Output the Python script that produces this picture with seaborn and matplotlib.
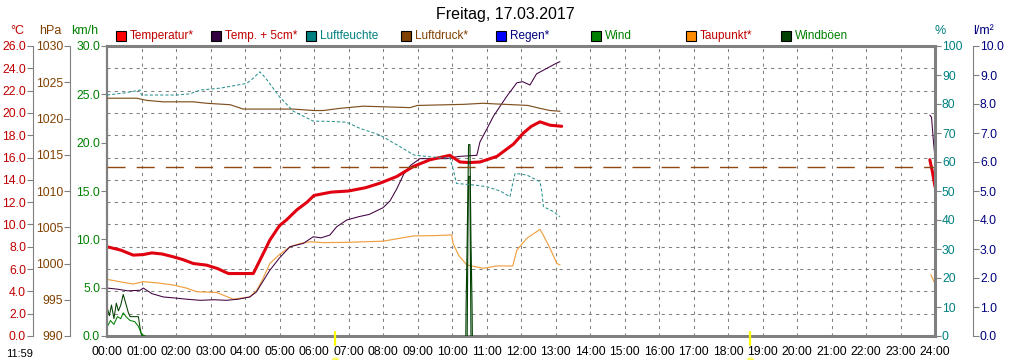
import numpy as np
import pandas as pd
import matplotlib
matplotlib.use("Agg")
import matplotlib.pyplot as plt
from matplotlib.patches import Rectangle
import seaborn as sns

# --- data (hours since midnight) ---
TITLE = "Freitag, 17.03.2017"
HOURS = list(range(25))
HOUR_LABELS = [f"{h:02d}:00" for h in HOURS]

temp_t = [0, 0.4, 0.76, 1.05, 1.3, 1.6, 1.92, 2.2, 2.5, 2.89, 3.2, 3.52, 3.9, 4.24, 4.53, 4.72,
          5.0, 5.2, 5.5, 5.8, 6.0, 6.5, 7.0, 7.5, 7.91, 8.4, 8.88, 9.36, 9.94, 10.23, 10.5, 10.81,
          11.3, 11.78, 12.07, 12.3, 12.55, 12.84, 13.18]
temp = [8.0, 7.7, 7.25, 7.3, 7.45, 7.35, 7.1, 6.85, 6.5, 6.35, 6.05, 5.6, 5.6, 5.6, 7.4, 8.6,
        9.9, 10.4, 11.3, 12.0, 12.6, 12.9, 13.0, 13.3, 13.7, 14.3, 15.2, 15.8, 16.2, 15.6, 15.55, 15.6,
        16.1, 17.2, 18.2, 18.8, 19.2, 18.9, 18.8]
temp_end_t = [23.85, 23.92, 24.0]
temp_end = [15.8, 14.8, 13.4]

t5_t = [0, 0.3, 0.6, 0.96, 1.05, 1.3, 1.63, 2.0, 2.3, 2.7, 3.1, 3.47, 3.8, 4.14, 4.33, 4.5, 4.72,
        5.0, 5.3, 5.69, 5.98, 6.2, 6.46, 6.66, 6.95, 7.3, 7.6, 8.0, 8.2, 8.4, 8.6, 8.8, 9.07, 9.5,
        9.85, 10.2, 10.72, 10.81, 11.0, 11.2, 11.59, 11.88, 12.05, 12.26, 12.45, 12.75, 12.99, 13.13]
t5 = [4.3, 4.2, 4.05, 4.1, 4.3, 3.8, 3.5, 3.4, 3.3, 3.2, 3.25, 3.2, 3.3, 3.5, 3.95, 4.8, 5.9,
      7.0, 8.0, 8.3, 8.9, 8.8, 9.05, 9.8, 10.4, 10.7, 10.9, 11.5, 12.1, 13.2, 14.5, 15.3, 15.9, 15.9,
      15.9, 16.1, 16.2, 17.4, 18.5, 19.7, 21.5, 22.7, 22.8, 22.5, 23.5, 24.0, 24.4, 24.6]
t5_end_t = [23.85, 23.9, 23.95, 24.0]
t5_end = [19.8, 19.6, 17.6, 16.0]

dp_t = [0, 0.4, 0.76, 1.05, 1.5, 1.92, 2.3, 2.6, 3.18, 3.66, 3.9, 4.14, 4.34, 4.5, 4.72, 5.0,
        5.3, 5.6, 5.88, 6.27, 7.0, 8.0, 8.88, 9.5, 9.99, 10.03, 10.2, 10.43, 10.7, 10.91, 11.3,
        11.76, 11.88, 12.17, 12.55, 12.62, 12.85, 13.04, 13.13]
dp = [5.08, 4.85, 4.66, 4.87, 4.75, 4.57, 4.3, 3.97, 3.9, 3.3, 3.4, 3.5, 4.1, 5.0, 6.5, 7.3,
      8.0, 8.3, 8.45, 8.37, 8.4, 8.5, 8.97, 9.0, 9.06, 8.3, 7.2, 6.37, 6.2, 6.07, 6.28,
      6.28, 7.7, 8.76, 9.56, 9.2, 7.8, 6.5, 6.37]
dp_end_t = [23.88, 24.0]
dp_end = [5.5, 4.7]

hum_t = [0, 0.5, 0.96, 1.0, 1.5, 2.02, 2.4, 2.7, 3.3, 4.05, 4.25, 4.43, 4.6, 5.0, 5.4, 5.98,
         6.5, 6.95, 7.33, 7.91, 8.49, 8.9, 9.36, 9.94, 10.04, 10.13, 10.62, 11.0, 11.4, 11.68,
         11.75, 11.83, 12.17, 12.55, 12.6, 12.65, 12.94, 13.13]
hum = [83.1, 83.8, 84.8, 83.1, 83.1, 83.1, 83.5, 84.8, 85.5, 87.1, 89.0, 91.1, 88.9, 82.5, 77.5,
       74.1, 74.0, 73.7, 71.6, 69.3, 65.3, 62.4, 61.8, 61.3, 57.2, 52.6, 52.1, 51.5, 50.0, 48.0,
       52.0, 56.1, 55.5, 53.2, 50.0, 44.6, 42.9, 41.1]

pres_t = [0, 0.86, 1.15, 1.63, 2.5, 2.89, 3.57, 3.95, 4.53, 5.0, 5.4, 6.0, 6.27, 6.75, 7.43,
          8.78, 9.0, 10.33, 10.9, 11.3, 11.78, 12.2, 12.55, 12.84, 13.13]
pres = [1022.8, 1022.8, 1022.5, 1022.3, 1022.3, 1022.1, 1021.9, 1021.3, 1021.3, 1021.3, 1021.3,
        1021.1, 1021.1, 1021.4, 1021.7, 1021.5, 1021.8, 1021.95, 1022.1, 1022.0, 1021.9, 1021.8,
        1021.4, 1021.1, 1021.0]
PRES_REF = 1013.25

gust_t = [0, 0.07, 0.13, 0.2, 0.27, 0.33, 0.4, 0.47, 0.55, 0.62, 0.67, 0.8, 0.91, 0.96, 1.0, 1.1]
gust = [3.0, 2.1, 3.2, 1.8, 3.4, 2.6, 3.2, 4.3, 3.3, 2.4, 2.0, 2.0, 2.0, 0.8, 0.1, 0.0]
wind_t = [0, 0.1, 0.2, 0.3, 0.4, 0.47, 0.55, 0.67, 0.8, 0.91, 1.0, 1.1]
wind = [0.9, 1.6, 1.2, 2.0, 1.8, 2.4, 2.0, 1.6, 1.5, 1.0, 0.2, 0.0]
gust2_t = [10.40, 10.41, 10.44, 10.48, 10.52, 10.55, 10.58, 10.59]
gust2 = [0, 3.4, 9.8, 19.8, 19.8, 9.8, 3.4, 0]
wind2_t = [10.44, 10.46, 10.48, 10.52, 10.53, 10.55]
wind2 = [0, 9.8, 16.5, 16.5, 9.8, 0]

SUN_TIMES = [6.6, 18.63]
DAYLEN = "11:59"

LEGEND_LABELS = ["Temperatur*", "Temp. + 5cm*", "Luftfeuchte", "Luftdruck*", "Regen*", "Wind",
                 "Taupunkt*", "Windböen"]
LEGEND_BOX = ["#ff0000", "#330040", "#008080", "#804000", "#0000ff", "#008000", "#ff8c00", "#004000"]
LEGEND_TXT = ["#c00000", "#c00000", "#008080", "#804000", "#000080", "#008000", "#c00000", "#008000"]

# --- layout in pixels ---
W, H = 1011, 360
L, R, T, B = 107, 935, 46, 336
GRAY = "#808080"

sns.set_style("white")
plt.rcParams["font.family"] = ["Liberation Sans", "DejaVu Sans"]
plt.rcParams["font.size"] = 7.5

fig = plt.figure(figsize=(W / 100, H / 100), dpi=100)
host = fig.add_axes([L / W, 1 - B / H, (R - L) / W, (B - T) / H])
ax_kmh = host.twinx()
ax_hpa = host.twinx()
ax_pct = host.twinx()
ax_rain = host.twinx()


def px_to_axes_x(px):
    return (px - L) / (R - L)


def setup(ax, lim, ticks, fmt, color, side, pos, lw=0.8):
    ax.set_ylim(*lim)
    for s in ax.spines.values():
        s.set_visible(False)
    sp = ax.spines[side]
    sp.set_visible(True)
    sp.set_position(("axes", pos))
    sp.set_color(GRAY)
    sp.set_linewidth(lw)
    ax.yaxis.set_ticks_position(side)
    ax.yaxis.set_label_position(side)
    ax.set_yticks(ticks)
    ax.set_yticklabels([fmt.format(v) for v in ticks])
    ax.tick_params(axis="y", colors=GRAY, labelcolor=color, length=4, width=0.8,
                   direction="out", labelsize=8.7, pad=1)
    ax.set_ylabel("")


setup(host, (0, 26), np.arange(0, 27, 2), "{:.1f}", "#c00000", "left", px_to_axes_x(33))
setup(ax_hpa, (990, 1030), np.arange(990, 1031, 5), "{:d}", "#804000", "left", px_to_axes_x(70))
setup(ax_kmh, (0, 30), np.arange(0, 31, 5), "{:.1f}", "#008000", "left", 0, lw=1.6)
setup(ax_pct, (0, 100), np.arange(0, 101, 10), "{:d}", "#008080", "right", 1, lw=2.2)
setup(ax_rain, (0, 10), np.arange(0, 11, 1), "{:.1f}", "#000080", "right", px_to_axes_x(973))

# frame of the plot area
for side in ["top", "bottom"]:
    host.spines[side].set_visible(True)
    host.spines[side].set_color(GRAY)
    host.spines[side].set_linewidth(2.2)

host.set_xlim(0, 24)
host.set_xticks(HOURS)
host.set_xticklabels(HOUR_LABELS)
host.tick_params(axis="x", length=0, pad=7, labelsize=8.7, labelcolor="black")
host.set_xlabel("")

# dashed grid
for y in np.arange(2, 26, 2):
    host.axhline(y, color=GRAY, lw=0.75, dashes=(3, 4), zorder=0)
for x in range(1, 24):
    host.axvline(x, color=GRAY, lw=0.75, dashes=(3, 4), zorder=0)

# series
sns.lineplot(x=hum_t, y=hum, ax=ax_pct, color="#2a9090", lw=0.75, dashes=False,
             linestyle=(0, (3, 2)))
sns.lineplot(x=pres_t, y=pres, ax=ax_hpa, color="#805020", lw=0.85)
ax_hpa.axhline(PRES_REF, color="#904810", lw=1.0, dashes=(13, 8))
sns.lineplot(x=gust_t, y=gust, ax=ax_kmh, color="#004000", lw=0.75, sort=False)
sns.lineplot(x=wind_t, y=wind, ax=ax_kmh, color="#008000", lw=0.75, sort=False)
sns.lineplot(x=gust2_t, y=gust2, ax=ax_kmh, color="#004000", lw=0.8, sort=False)
sns.lineplot(x=wind2_t, y=wind2, ax=ax_kmh, color="#004000", lw=0.8, sort=False)
sns.lineplot(x=dp_t, y=dp, ax=host, color="#f0a040", lw=0.85, sort=False)
sns.lineplot(x=dp_end_t, y=dp_end, ax=host, color="#f0a040", lw=0.85, sort=False)
sns.lineplot(x=t5_t, y=t5, ax=host, color="#400040", lw=0.75, sort=False)
sns.lineplot(x=t5_end_t, y=t5_end, ax=host, color="#400040", lw=0.75, sort=False)
sns.lineplot(x=temp_t, y=temp, ax=host, color="#e00010", lw=2.2, sort=False)
sns.lineplot(x=temp_end_t, y=temp_end, ax=host, color="#e00010", lw=2.2, sort=False)
for a in [host, ax_kmh, ax_hpa, ax_pct, ax_rain]:
    a.set_ylabel("")
    a.set_xlabel("")
    if a.get_legend() is not None:
        a.get_legend().remove()

# sunrise / sunset markers
for st in SUN_TIMES:
    host.plot([st, st], [-0.03, 0.014], transform=host.get_xaxis_transform(),
              color="#ffff00", lw=1.6, clip_on=False, zorder=5)
    host.plot([st], [-0.085], transform=host.get_xaxis_transform(), marker="o",
              ms=5, color="#ffff60", clip_on=False)

# axis unit labels
for txt, xp, col in [("°C", 17, "#c00000"), ("hPa", 50, "#804000"), ("km/h", 85, "#008000"),
                     ("%", 940, "#008080"), ("l/m²", 984, "#000080")]:
    fig.text(xp / W, 1 - 31 / H, txt, color=col, ha="center", va="center", fontsize=9)

# legend row
for i, (lab, bc, tc) in enumerate(zip(LEGEND_LABELS, LEGEND_BOX, LEGEND_TXT)):
    x0 = 116 + 95 * i
    fig.patches.append(Rectangle((x0 / W, 1 - 41 / H), 10 / W, 10 / H, transform=fig.transFigure,
                                 facecolor=bc, edgecolor="black", lw=0.8))
    fig.text((x0 + 14) / W, 1 - 36 / H, lab, color=tc, ha="left", va="center", fontsize=8.5)

fig.text(0.5, 1 - 14 / H, TITLE, ha="center", va="center", fontsize=11.5, color="black")
fig.text(6 / W, 1 / H, DAYLEN, ha="left", va="bottom", fontsize=8, color="black")

fig.savefig("out.png", dpi=100, facecolor="white")
